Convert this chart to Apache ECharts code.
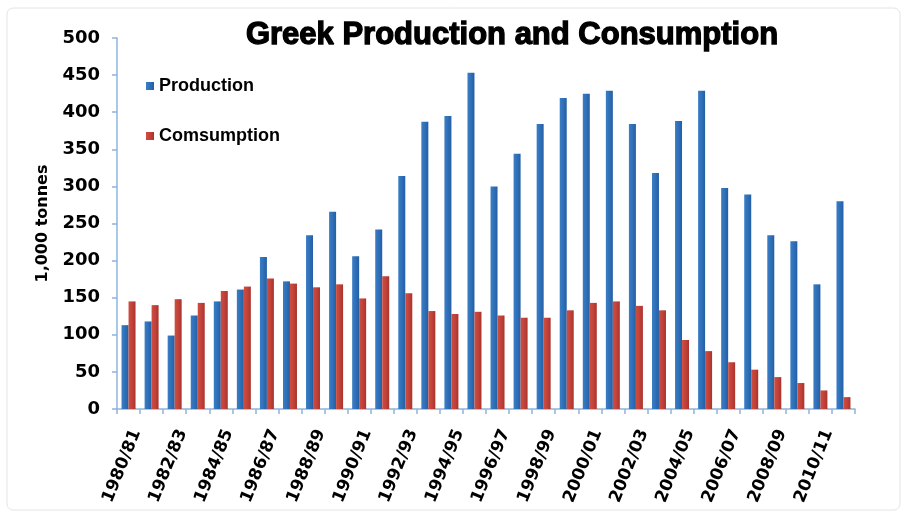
<!DOCTYPE html>
<html>
<head>
<meta charset="utf-8">
<script src="https://cdn.jsdelivr.net/npm/echarts@6/dist/echarts.min.js"></script>
<style>
  html, body { margin: 0; padding: 0; background: #fff; }
  #chart { width: 907px; height: 517px; }
</style>
</head>
<body>
<div id="chart"></div>
<script>
// Crop years, 1980/81 through 2011/12
const seasons = [
  '1980/81','1981/82','1982/83','1983/84','1984/85','1985/86','1986/87','1987/88',
  '1988/89','1989/90','1990/91','1991/92','1992/93','1993/94','1994/95','1995/96',
  '1996/97','1997/98','1998/99','1999/00','2000/01','2001/02','2002/03','2003/04',
  '2004/05','2005/06','2006/07','2007/08','2008/09','2009/10','2010/11','2011/12'
];

// Thousand tonnes
const production = [
  113, 118, 99, 126, 145, 161, 205, 172,
  234, 266, 206, 242, 314, 387, 395, 453,
  300, 344, 384, 419, 425, 429, 384, 318,
  388, 429, 298, 289, 234, 226, 168, 280
];

const consumption = [
  145, 140, 148, 143, 159, 165, 176, 169,
  164, 168, 149, 179, 156, 132, 128, 131,
  126, 123, 123, 133, 143, 145, 139, 133,
  93, 78, 63, 53, 43, 35, 25, 16
];

const yTicks = { min: 0, max: 500, interval: 50 };

const chart = echarts.init(document.getElementById('chart'), null, { renderer: 'canvas' });

const axisBlue = '#8fb4dc';
const sansFont = '"Liberation Sans", Arial, sans-serif';
const wideFont = '"DejaVu Sans", sans-serif';

chart.setOption({
  backgroundColor: '#ffffff',
  animation: false,
  graphic: [{
    type: 'rect',
    shape: { x: 7, y: 8, width: 893, height: 502, r: 6 },
    style: { fill: 'none', stroke: '#e4e4e4', lineWidth: 1 },
    silent: true
  }],
  title: {
    text: 'Greek Production and Consumption',
    left: 507,
    textAlign: 'center',
    top: 15,
    textStyle: {
      fontFamily: sansFont,
      fontWeight: 'bold',
      fontSize: 31,
      color: '#000',
      textBorderColor: '#000',
      textBorderWidth: 1.3
    }
  },
  legend: {
    orient: 'vertical',
    left: 146,
    top: 77,
    padding: 0,
    itemGap: 32,
    itemWidth: 8,
    itemHeight: 8,
    icon: 'rect',
    textStyle: {
      fontFamily: sansFont,
      fontWeight: 'bold',
      fontSize: 18,
      color: '#000'
    },
    data: ['Production', 'Comsumption']
  },
  grid: {
    left: 117,
    right: 52,
    top: 38,
    bottom: 108,
    containLabel: false
  },
  xAxis: {
    type: 'category',
    data: seasons,
    boundaryGap: true,
    axisLine: { lineStyle: { color: axisBlue, width: 1.5 } },
    axisTick: { show: true, interval: 0, length: 5, lineStyle: { color: axisBlue, width: 1.5 } },
    axisLabel: {
      interval: 1,
      rotate: 68,
      margin: 18,
      verticalAlign: 'top',
      fontFamily: wideFont,
      fontWeight: 'bold',
      fontSize: 17,
      color: '#000'
    }
  },
  yAxis: {
    type: 'value',
    min: yTicks.min,
    max: yTicks.max,
    interval: yTicks.interval,
    name: '1,000 tonnes',
    nameLocation: 'middle',
    nameGap: 66,
    nameTextStyle: {
      fontFamily: wideFont,
      fontWeight: 'bold',
      fontSize: 16,
      color: '#000'
    },
    splitLine: { show: false },
    axisLine: { show: true, lineStyle: { color: axisBlue, width: 1.5 } },
    axisTick: { show: true, length: 5, lineStyle: { color: axisBlue, width: 1.5 } },
    axisLabel: {
      margin: 17,
      fontFamily: wideFont,
      fontWeight: 'bold',
      fontSize: 18,
      color: '#000'
    }
  },
  series: [
    {
      name: 'Production',
      type: 'bar',
      data: production,
      barWidth: 7,
      barGap: '0%',
      itemStyle: {
        color: new echarts.graphic.LinearGradient(0, 0, 1, 0, [
          { offset: 0, color: '#3a7ec6' },
          { offset: 0.5, color: '#2f70b8' },
          { offset: 1, color: '#245ea3' }
        ])
      }
    },
    {
      name: 'Comsumption',
      type: 'bar',
      data: consumption,
      barWidth: 7,
      itemStyle: {
        color: new echarts.graphic.LinearGradient(0, 0, 1, 0, [
          { offset: 0, color: '#cf4e40' },
          { offset: 0.5, color: '#c2423a' },
          { offset: 1, color: '#a8342d' }
        ])
      }
    }
  ]
});
</script>
</body>
</html>
